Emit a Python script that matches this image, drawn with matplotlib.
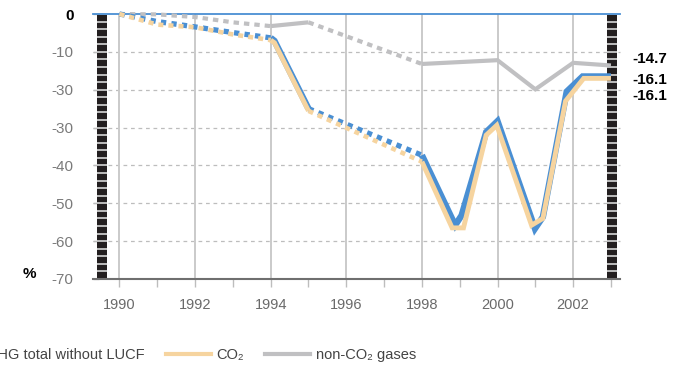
import matplotlib.pyplot as plt
import numpy as np

plt.rcParams['font.family'] = ['Liberation Sans', 'DejaVu Sans']

# index values, % change from 1990
ghg_years = [1990, 1991, 1992, 1993, 1994, 1994.1, 1995, 1998, 1998.88, 1999.05,
             1999.7, 2000, 2000.99, 2001.2, 2001.83, 2002.25, 2003]
ghg = [0, -2.0, -3.4, -4.9, -6.3, -7.1, -25.0, -37.3, -55.8, -53.2,
       -31.2, -28.3, -56.7, -53.6, -20.5, -16.5, -16.5]

co2_years = [1990, 1991, 1992, 1993, 1994, 1994.1, 1995, 1998, 1998.8, 1999.1,
             1999.7, 1999.98, 2000.9, 2001.2, 2001.8, 2002.28, 2003]
co2 = [0, -2.8, -3.5, -5.4, -6.9, -7.6, -25.6, -39.0, -56.5, -56.5,
       -32.0, -29.4, -55.8, -54.0, -23.0, -17.0, -17.0]

nonco2_years = [1990, 1991, 1992, 1993, 1994, 1995, 1998, 1999, 2000, 2001, 2002, 2003]
nonco2 = [0, -0.1, -0.8, -2.2, -3.2, -2.2, -13.2, -12.7, -12.2, -19.9, -12.9, -13.6]

# years without data are drawn dotted
gaps = [(1990, 1994), (1995, 1998)]
measured = [(1994, 1995), (1998, 2003)]

end_labels = ['-14.7', '-16.1', '-16.1']
ytick_vals = [0, -10, -20, -30, -40, -50, -60, -70]
ytick_labels = ['0', '-10', '-30', '-30', '-40', '-50', '-60', '-70']

blue = '#4a8fd3'
orange = '#f6d49f'
grey = '#c0c0c2'

fig = plt.figure(figsize=(6.95, 3.68), dpi=100)
ax = fig.add_axes([93 / 695, 1 - 279 / 368, (620 - 93) / 695, (279 - 14) / 368])
ax.set_xlim(1989.30, 2003.24)
ax.set_ylim(-70, 0)


def draw(years, vals, color, lw, dlw, dash, z):
    years = np.array(years)
    vals = np.array(vals)
    for a, b in gaps:
        m = (years >= a) & (years <= b)
        ax.plot(years[m], vals[m], color=color, lw=dlw, ls=(0, dash),
                dash_capstyle='butt', zorder=z, clip_on=False)
    for a, b in measured:
        m = (years >= a) & (years <= b)
        ax.plot(years[m], vals[m], color=color, lw=lw, zorder=z,
                solid_joinstyle='miter', solid_capstyle='butt', clip_on=False)


draw(nonco2_years, nonco2, grey, 3.0, 3.0, (1.3, 1.2), 6)
draw(ghg_years, ghg, blue, 4.6, 3.8, (1, 1), 7)
draw(co2_years, co2, orange, 3.5, 3.3, (1.1, 1.1), 8)

# grid
for v in ytick_vals[1:-1]:
    ax.axhline(v, color='#bdbdbd', lw=0.9, ls=(0, (3, 3)), zorder=1, clip_on=False)
for yr in range(1990, 2003, 2):
    ax.axvline(yr, color='#cacaca', lw=1.4, zorder=1)
ax.axhline(0, color=blue, lw=1.3, zorder=5, clip_on=False)

# black scale bars at both ends
for x0, x1 in [(1989.41, 1989.67), (2002.90, 2003.16)]:
    ax.axvspan(x0, x1, ymax=0.995, color='#231f20', zorder=3, lw=0)
    ax.hlines(np.arange(-68, 0, 2), x0, x1, color='#c9c9c9', lw=1.3, zorder=4)

ax.set_yticks(ytick_vals)
ax.set_yticklabels(ytick_labels)
ax.tick_params(axis='y', direction='in', length=4, width=1, color='#bdbdbd',
               labelsize=11, labelcolor='#7a7a7a', pad=14)
lbl0 = ax.get_yticklabels()[0]
lbl0.set_fontweight('bold')
lbl0.set_color('black')

ax.set_xticks(range(1990, 2003, 2))
ax.set_xticks(range(1991, 2004, 2), minor=True)
ax.tick_params(axis='x', which='both', direction='out', length=6, width=1,
               color='#bdbdbd', labelsize=10.5, labelcolor='#6a6a6a', pad=8)

for s in ['left', 'right', 'top']:
    ax.spines[s].set_visible(False)
ax.spines['bottom'].set_color('#6f6f6f')
ax.spines['bottom'].set_linewidth(1.5)
ax.spines['bottom'].set_zorder(9)

for lab, yv in zip(end_labels, [-11.9, -17.5, -21.6]):
    ax.text(2003.58, yv, lab, fontsize=11, fontweight='bold', va='center',
            ha='left', clip_on=False)

fig.text(29 / 695, 1 - 274 / 368, '%', fontsize=11, fontweight='bold',
         ha='center', va='center')

handles = [plt.Line2D([], [], color=blue, lw=3),
           plt.Line2D([], [], color=orange, lw=3),
           plt.Line2D([], [], color=grey, lw=3)]
fig.legend(handles, ['GHG total without LUCF', 'CO\u2082', 'non-CO\u2082 gases'],
           loc='center left', bbox_to_anchor=(-65 / 695, 1 - 355 / 368), ncol=3,
           frameon=False, fontsize=10.5, handlelength=3.1, handletextpad=0.38,
           columnspacing=1.45, borderpad=0, borderaxespad=0, labelcolor='#444444')

fig.savefig('out.png', dpi=100)
